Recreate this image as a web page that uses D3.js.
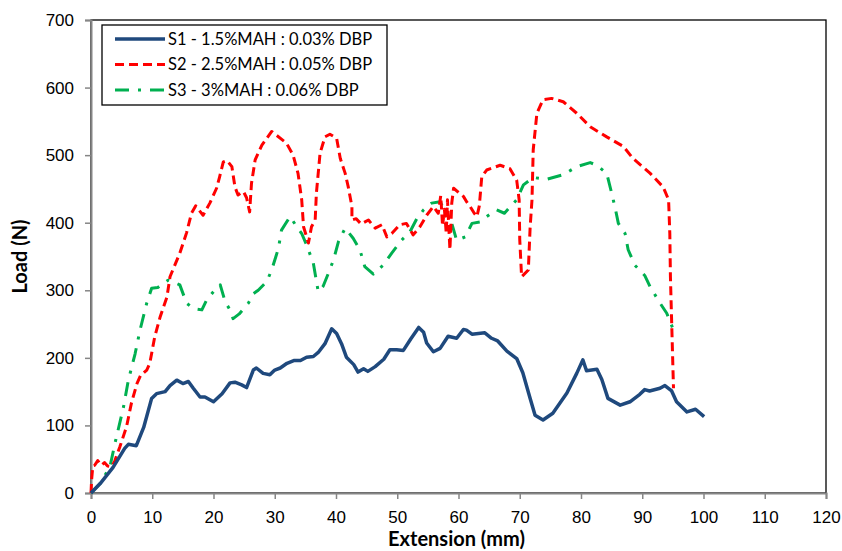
<!DOCTYPE html>
<html>
<head>
<meta charset="utf-8">
<script src="https://cdn.jsdelivr.net/npm/d3@7"></script>
<style>
	body { margin: 0; background: #fff; }
	svg { display: block; font-family: Lato, 'Open Sans', sans-serif; }
	.tick text { font-size: 17px; fill: #000; }
</style>
</head>
<body>
<script>
// tick values
var xTicks = [0, 10, 20, 30, 40, 50, 60, 70, 80, 90, 100, 110, 120];
var yTicks = [0, 100, 200, 300, 400, 500, 600, 700];

var seriesNames = ['S1 - 1.5%MAH : 0.03% DBP', 'S2 - 2.5%MAH : 0.05% DBP', 'S3 - 3%MAH : 0.06% DBP'];

// [extension (mm), load (N)]
var s1 = [[0,0],[1.5,14],[3.6,38],[5.5,66],[6.1,72],[7.4,70],[8.6,97],[9.9,140],[10.7,147],[12.1,150],[12.9,159],[14,167],[15,162],[15.9,165],[16.7,155],[17.8,142],[18.6,142],[20,135],[21.4,147],[22.7,163],[23.5,164],[24.6,160],[25.4,156],[26.5,182],[27,185],[28.1,177],[29.2,175],[30,182],[30.9,185],[32,192],[33.1,196],[34.2,196],[35.2,201],[36.3,202],[37.1,208],[38.2,221],[39.3,243],[40.1,236],[40.9,221],[41.7,201],[42.9,190],[43.6,179],[44.5,184],[45.2,180],[46.4,187],[47.8,198],[48.8,212],[49.9,212],[51,211],[52.2,228],[53.5,245],[54.3,238],[54.8,222],[55.9,209],[57,214],[58.3,232],[59.7,229],[60.8,242],[61.3,241],[62.2,235],[64.3,237],[65.4,229],[66.4,225],[67.9,210],[69.5,199],[70.5,178],[71.7,140],[72.5,115],[73.8,108],[75.4,118],[77.7,148],[79.3,177],[80.3,197],[80.9,181],[82.6,183],[83.4,168],[84.4,140],[86.4,130],[88,135],[89.6,146],[90.4,153],[91.2,151],[92.9,155],[93.7,159],[94.8,151],[95.6,135],[97.3,120],[98.7,124],[100.1,113]];

var s2 = [[0,0],[0.1,20],[0.3,40],[0.6,41],[1.1,48],[1.7,41],[2.2,45],[2.7,40],[3.4,39],[3.9,48],[4.7,68],[5.8,98],[6.6,133],[7.5,162],[8.1,174],[9.1,182],[9.6,192],[10.4,231],[11.3,261],[12.4,290],[12.9,320],[14.5,355],[15.6,385],[16.4,414],[17.1,425],[18.3,411],[19.4,429],[20.5,451],[21,468],[21.6,490],[22.2,492],[23,483],[23.5,453],[24,441],[24.9,446],[25.4,437],[25.9,416],[26.2,458],[26.8,493],[27.9,515],[29.5,535],[30.2,530],[31.9,518],[33,500],[33.8,473],[34.4,434],[34.7,394],[35.2,379],[35.5,370],[36,394],[36.6,404],[36.8,444],[37.4,503],[38.2,527],[39,531],[40.1,525],[40.7,495],[41.5,473],[42,453],[42.6,424],[42.6,404],[43.3,406],[44.1,398],[45.3,404],[46.4,392],[47.5,397],[48.3,379],[49.1,384],[50.4,397],[51.5,399],[52.6,382],[53.7,394],[54.8,411],[55.9,424],[56.7,414],[57.1,440],[57.4,395],[57.7,420],[58,384],[58.2,434],[58.6,360],[58.9,429],[59.2,451],[60,445],[60.8,439],[61.4,430],[61.9,424],[62.5,415],[63,409],[63.4,425],[63.8,468],[64.6,478],[66.8,485],[68.4,480],[69.5,463],[69.9,434],[70,375],[70.3,320],[71.4,330],[71.7,394],[72,434],[72.2,508],[72.8,562],[73.8,582],[75.2,584],[77.1,579],[79.3,562],[81.5,542],[84.2,527],[86.9,513],[88.5,495],[91.3,473],[93.4,453],[94.3,434],[94.5,384],[94.6,320],[95.1,155]];

var s3 = [[0,0],[1.5,14],[3.1,39],[3.9,73],[5.3,127],[6.1,167],[7.2,206],[8,241],[9.1,281],[9.9,303],[10.9,304],[12.6,315],[14.5,308],[15.6,281],[16.7,273],[18.1,271],[18.9,286],[20,298],[21.1,308],[21.9,283],[22.7,271],[23.2,258],[24.2,265],[25.7,281],[26.5,295],[27.3,300],[28.7,313],[29.5,330],[30.6,362],[31.1,389],[32.5,409],[33.6,394],[34.4,384],[35.2,367],[36.3,340],[37.1,298],[37.9,306],[38.7,324],[39.6,345],[40.4,372],[41.5,392],[42.8,377],[43.9,360],[44.7,335],[46.1,324],[47.7,337],[49.1,355],[50.7,374],[52.1,387],[53.2,406],[54.3,419],[55.6,429],[57,431],[57.8,416],[58.9,399],[59.7,374],[61.1,379],[62.2,399],[63.5,401],[64.6,409],[66.2,419],[67.5,414],[69.5,434],[70.6,456],[72.2,467],[74.3,464],[77.1,471],[79.3,483],[81.5,489],[82.6,485],[84.2,473],[85,444],[85.6,421],[86.1,399],[87.2,384],[87.7,360],[88.8,337],[90.4,322],[91.3,305],[92.9,281],[94,266],[95.1,241]];

var width = 842, height = 551;
var margin = { top: 20, right: 16, bottom: 58, left: 91 };
var plotW = width - margin.left - margin.right,
	plotH = height - margin.top - margin.bottom;

var series = [
	{ name: seriesNames[0], data: s1, color: '#1f497d', w: 3.5, dash: null },
	{ name: seriesNames[1], data: s2, color: '#ff0000', w: 3, dash: '9,5' },
	{ name: seriesNames[2], data: s3, color: '#00b050', w: 3, dash: '14,9,3,9' }
];

var svg = d3.select('body').append('svg')
	.attr('width', width)
	.attr('height', height);

var g = svg.append('g').attr('transform', 'translate(' + margin.left + ',' + margin.top + ')');

var x = d3.scaleLinear().domain([0, 120]).range([0, plotW]);
var y = d3.scaleLinear().domain([0, 700]).range([plotH, 0]);

// plot area border
g.append('rect')
	.attr('x', 0).attr('y', 0)
	.attr('width', plotW).attr('height', plotH)
	.attr('fill', 'none').attr('stroke', '#000').attr('stroke-width', 1.3);

// axes
var xAxis = g.append('g').attr('transform', 'translate(0,' + plotH + ')')
	.call(d3.axisBottom(x).tickValues(xTicks).tickSize(6).tickPadding(12));
var yAxis = g.append('g')
	.call(d3.axisLeft(y).tickValues(yTicks).tickSize(6).tickPadding(11));

[xAxis, yAxis].forEach(function (a) {
	a.select('.domain').attr('stroke', '#868686').attr('stroke-width', 2);
	a.selectAll('.tick line').attr('stroke', '#868686').attr('stroke-width', 1.5);
});

// curves
var line = d3.line()
	.x(function (d) { return x(d[0]); })
	.y(function (d) { return y(d[1]); });

series.slice().reverse().forEach(function (s) {
	g.append('path')
		.datum(s.data)
		.attr('fill', 'none')
		.attr('stroke', s.color)
		.attr('stroke-width', s.w)
		.attr('stroke-linejoin', 'round')
		.attr('stroke-dasharray', s.dash)
		.attr('d', line);
});

// axis titles
svg.append('text')
	.attr('x', margin.left + plotW / 2 - 2).attr('y', 546)
	.attr('text-anchor', 'middle')
	.attr('font-size', 20).attr('font-weight', 'bold')
	.text('Extension (mm)');

svg.append('text')
	.attr('transform', 'translate(27,' + (margin.top + plotH / 2) + ') rotate(-90)')
	.attr('text-anchor', 'middle')
	.attr('font-size', 20).attr('font-weight', 'bold')
	.text('Load (N)');

// legend
var legend = svg.append('g').attr('transform', 'translate(102,25)');
legend.append('rect')
	.attr('width', 285).attr('height', 80)
	.attr('fill', '#fff').attr('stroke', '#000').attr('stroke-width', 1.3);

series.forEach(function (s, i) {
	var ly = 14 + i * 25.5;
	legend.append('line')
		.attr('x1', 13).attr('x2', 63)
		.attr('y1', ly).attr('y2', ly)
		.attr('stroke', s.color).attr('stroke-width', s.w)
		.attr('stroke-dasharray', s.dash);
	legend.append('text')
		.attr('x', 66).attr('y', ly + 5.5)
		.attr('font-size', 16.5)
		.text(s.name);
});
</script>
</body>
</html>
